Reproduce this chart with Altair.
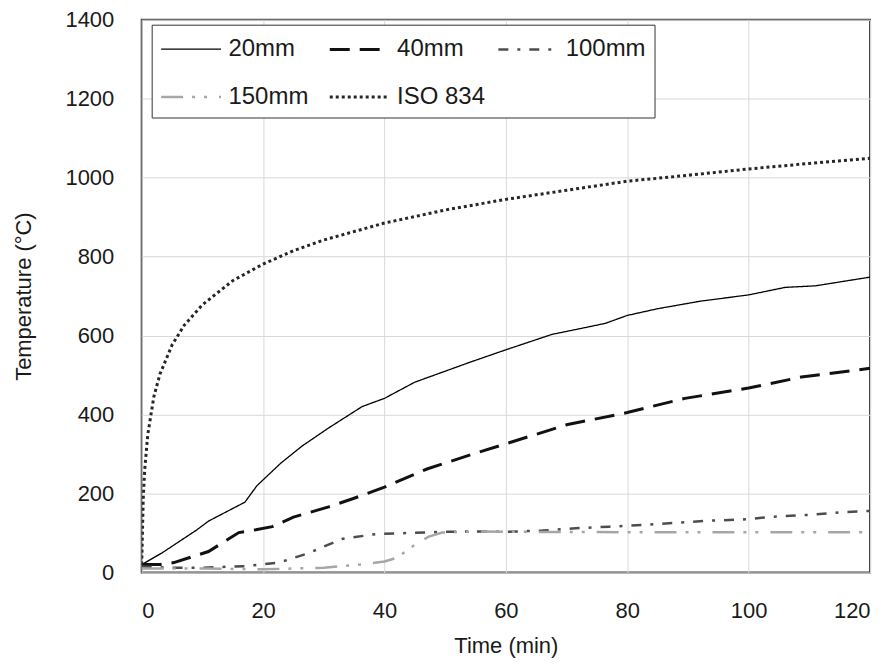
import altair as alt
import pandas as pd

series_names = ["20mm", "40mm", "100mm", "150mm", "ISO 834"]

t_20 = [0, 3.4, 9, 11, 17, 19, 23, 26.4, 30.8, 36.3, 40, 45, 54, 60, 67.6, 73, 76.4, 80, 85, 92, 100, 106, 111, 120]
T_20 = [20, 50, 107, 130, 178, 220, 278, 320, 366, 420, 441, 482, 532, 564, 603, 620, 631, 651, 668, 687, 703, 722, 726, 748]

t_40 = [0, 3, 5.3, 11, 16, 18.8, 21.5, 25, 30.8, 35, 40, 47, 54.4, 60, 70, 80, 89.5, 100, 108.7, 120]
T_40 = [20, 20, 25, 53, 101, 108, 116, 140, 166, 188, 216, 262, 299, 326, 374, 405, 441, 467, 495, 517]

t_100 = [0, 5, 10, 17, 22.6, 27.5, 33, 38.5, 44, 50, 55, 60, 66, 71.5, 77, 82.4, 88, 93.4, 99, 104, 110, 115, 120]
T_100 = [15, 12, 12, 16, 25, 49, 85, 97, 100, 103, 104, 103, 106, 112, 116, 120, 126, 131, 134, 141, 146, 152, 156]

t_150 = [0, 10, 20, 30, 36, 40, 42, 45, 47.3, 49.5, 55, 60, 80, 100, 120]
T_150 = [10, 10, 8, 12, 20, 28, 37, 70, 91, 101, 104, 103, 102, 102, 102]

t_iso = [0, 0.25, 0.5, 1, 2, 3, 5, 7, 10, 15, 20, 25, 30, 40, 50, 60, 70, 80, 90, 100, 110, 120]
T_iso = [20, 185, 261, 349, 445, 502, 576, 626, 678, 739, 781, 815, 842, 885, 918, 945, 968, 991, 1006, 1022, 1036, 1049]

x_ticks = [0, 20, 40, 60, 80, 100, 120]
y_ticks = [0, 200, 400, 600, 800, 1000, 1200, 1400]

line_colors = ["#000000", "#111111", "#4d4d4d", "#a6a6a6", "#262626"]
line_dashes = [[1, 0], [20, 10], [10, 9, 3, 9], [22, 9, 3, 9, 3, 12], [3, 3]]
line_widths = [1.3, 3, 2.5, 2.5, 3]

rows = []
for name, ts, vs in zip(series_names, [t_20, t_40, t_100, t_150, t_iso], [T_20, T_40, T_100, T_150, T_iso]):
    for t, v in zip(ts, vs):
        rows.append({"series": name, "t": t, "T": v})
df = pd.DataFrame(rows)

FONT = "Liberation Sans"

legend = alt.Legend(
    title=None, orient="none", legendX=10, legendY=5, columns=3, direction="horizontal",
    symbolType="M-1,0H3", symbolSize=900, labelFontSize=24, labelFont=FONT,
    labelColor="#1a1a1a", columnPadding=6, rowPadding=19, padding=8, gridAlign="all",
    strokeColor="#333333", fillColor="white", labelOffset=36,
)

chart = alt.Chart(df).mark_line(clip=True).encode(
    x=alt.X("t:Q", scale=alt.Scale(domain=[0, 120], nice=False),
            axis=alt.Axis(values=x_ticks, title="Time (min)", labelPadding=28, titlePadding=14)),
    y=alt.Y("T:Q", scale=alt.Scale(domain=[0, 1400], nice=False),
            axis=alt.Axis(values=y_ticks, format="d", title="Temperature (°C)", labelPadding=28, titlePadding=30)),
    color=alt.Color("series:N", scale=alt.Scale(domain=series_names, range=line_colors), legend=legend),
    strokeDash=alt.StrokeDash("series:N", scale=alt.Scale(domain=series_names, range=line_dashes), legend=legend),
    strokeWidth=alt.StrokeWidth("series:N", scale=alt.Scale(type="ordinal", domain=series_names, range=line_widths), legend=legend),
).properties(
    width=730, height=554,
    autosize=alt.AutoSizeParams(type="none"),
    padding={"left": 134, "top": 11, "right": 18, "bottom": 88},
).configure_view(
    stroke="#404040", strokeWidth=2
).configure_axis(
    ticks=False, domain=False, grid=True, gridColor="#d9d9d9", gridWidth=1,
    labelFont=FONT, labelFontSize=22, labelColor="#1a1a1a",
    titleFont=FONT, titleFontSize=22, titleFontWeight="normal", titleColor="#1a1a1a",
)

chart.save("out.html", embed_options={"renderer": "svg", "actions": False})
